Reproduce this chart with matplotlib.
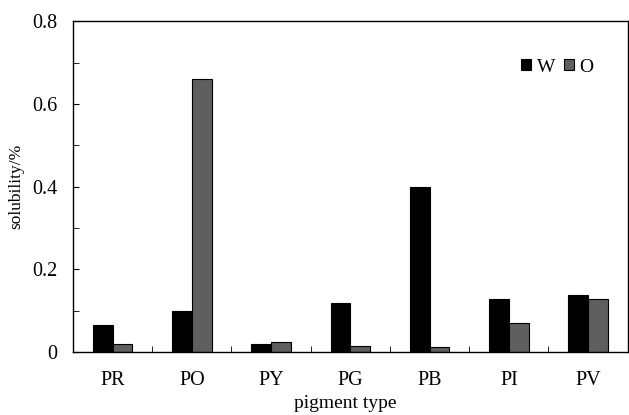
import numpy as np
from matplotlib import pyplot as plt

plt.rcParams['font.family'] = ['Liberation Serif', 'DejaVu Serif']

categories = ['PR', 'PO', 'PY', 'PG', 'PB', 'PI', 'PV']
w_values = [0.064, 0.098, 0.019, 0.118, 0.398, 0.128, 0.138]
o_values = [0.020, 0.660, 0.024, 0.015, 0.013, 0.069, 0.129]

fig = plt.figure(figsize=(6.29, 4.15), dpi=100)
ax = fig.add_axes([0.116, 0.152, 0.882, 0.797])

x = np.arange(len(categories))
width = 0.25
ax.bar(x - width / 2, w_values, width, color='black', edgecolor='black', linewidth=0.8, label='W')
ax.bar(x + width / 2, o_values, width, color='#5f5f5f', edgecolor='black', linewidth=0.8, label='O')

ax.set_xlim(-0.5, len(categories) - 0.5)
ax.set_ylim(0, 0.8)
ax.set_yticks([0, 0.2, 0.4, 0.6, 0.8])
ax.set_yticklabels(['0', '0.2', '0.4', '0.6', '0.8'])
ax.set_yticks(np.arange(0.1, 0.8, 0.2), minor=True)
ax.tick_params(axis='y', which='both', direction='in', length=4, labelsize=14.5, pad=11)

ax.set_xticks(x)
ax.set_xticklabels(categories)
ax.set_xticks(np.arange(0.5, len(categories) - 1, 1), minor=True)
ax.tick_params(axis='x', which='major', length=0, labelsize=14.5, pad=14)
ax.tick_params(axis='x', which='minor', direction='in', length=4)

for s in ax.spines.values():
    s.set_linewidth(1.0)

ax.set_xlabel('pigment type', fontsize=14, labelpad=3)
ax.xaxis.label.set_x(0.49)
ax.set_ylabel('solubility/%', fontsize=12.5, labelpad=6)

ax.legend(loc='upper right', bbox_to_anchor=(0.97, 0.94), ncol=2, frameon=False,
          fontsize=14, handlelength=0.5, handleheight=0.5, handletextpad=0.3,
          columnspacing=0.45)

plt.savefig('out.png', dpi=100)
